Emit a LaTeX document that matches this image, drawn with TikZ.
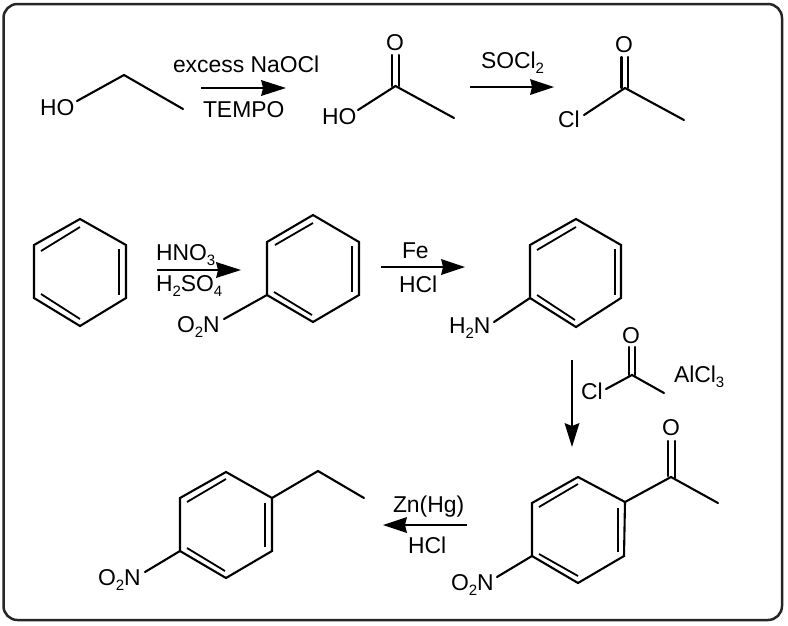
\documentclass[tikz,border=0pt]{standalone}
\usepackage{fontspec}
\setmainfont{Liberation Sans}
\newcommand{\sbs}[1]{\raisebox{-5pt}{\fontsize{15}{15}\selectfont #1}}
\newcommand{\hexring}[7]{%
  \coordinate (#1t) at #2; \coordinate (#1ur) at #3; \coordinate (#1lr) at #4;
  \coordinate (#1b) at #5; \coordinate (#1ll) at #6; \coordinate (#1ul) at #7;
  \draw[bond] (#1t) -- (#1ur) -- (#1lr) -- (#1b) -- (#1ll) -- (#1ul) -- cycle;}
\tikzset{
  bond/.style={line width=2.1pt,draw=black,line cap=round,line join=miter},
  inbond/.style={line width=1.8pt,draw=black},
  frameline/.style={line width=2.5pt,draw=black!85,rounded corners=14pt},
  lab/.style={anchor=base west,inner sep=0pt,outer sep=0pt,text=black,font=\fontsize{22.9}{24}\selectfont},
  labc/.style={lab,anchor=base},
  rxn/.style={line width=2.4pt,draw=black}
}
\begin{document}
\begin{tikzpicture}[x=1pt,y=-1pt]
\useasboundingbox (0,0) rectangle (788,625);
\fill[white] (0,0) rectangle (788,625);
\coordinate (fa) at (3.5,4); \coordinate (fb) at (782,620);
\draw[frameline] (fa) rectangle (fb);

% ethanol
\node[lab] (hoA) at (40,115) {HO};
\coordinate (a1) at (77,101); \coordinate (a2) at (124,75); \coordinate (a3) at (183,109);
\draw[bond] (a1) -- (a2) -- (a3);
% arrow 1
\node[lab] (t1) at (173,72) {excess NaOCl};
\node[lab] (t2) at (203,117) {TEMPO};
\coordinate (r1s) at (201,88); \coordinate (r1e) at (263,88); \coordinate (r1h) at (286,88);
\coordinate (r1u) at (261,80); \coordinate (r1d) at (261,96);
\draw[rxn] (r1s) -- (r1e);
\fill (r1h) -- (r1u) -- (r1e) -- (r1d) -- cycle;
% acetic acid
\node[lab] (hoB) at (322,124) {HO};
\node[labc] (oB) at (395,50) {O};
\coordinate (b1) at (358,110); \coordinate (b2) at (395.5,86); \coordinate (b3) at (454,118);
\coordinate (b4) at (392,55); \coordinate (b5) at (392,86);
\coordinate (b6) at (399,55); \coordinate (b7) at (399,86);
\draw[bond] (b1) -- (b2) -- (b3);
\draw[bond] (b4) -- (b5); \draw[bond] (b6) -- (b7);
% arrow 2
\node[lab] (t3) at (481,68) {SOCl\sbs{2}};
\coordinate (r2s) at (470,87); \coordinate (r2e) at (532,87); \coordinate (r2h) at (554,87);
\coordinate (r2u) at (530,79); \coordinate (r2d) at (530,95);
\draw[rxn] (r2s) -- (r2e);
\fill (r2h) -- (r2u) -- (r2e) -- (r2d) -- cycle;
% acetyl chloride
\node[lab] (clC) at (558,127) {Cl};
\node[labc] (oC) at (624,52) {O};
\coordinate (c1) at (584,115); \coordinate (c2) at (625,88); \coordinate (c3) at (684,120);
\coordinate (c4) at (621.5,57); \coordinate (c5) at (621.5,88);
\coordinate (c6) at (628,57); \coordinate (c7) at (628,88);
\draw[bond] (c1) -- (c2) -- (c3);
\draw[bond] (c4) -- (c5); \draw[bond] (c6) -- (c7);

% benzene
\hexring{d}{(80,219)}{(126,245)}{(126,298)}{(80,326)}{(34,298)}{(34,245)}
\coordinate (d1) at (41,251); \coordinate (d2) at (80,227);
\coordinate (d3) at (119,249); \coordinate (d4) at (119,295);
\coordinate (d5) at (41,294); \coordinate (d6) at (80,319);
\draw[inbond] (d1) -- (d2); \draw[inbond] (d3) -- (d4); \draw[inbond] (d5) -- (d6);
% arrow 3
\node[lab] (t4) at (156,260) {HNO\sbs{3}};
\node[lab] (t5) at (156,291) {H\sbs{2}SO\sbs{4}};
\coordinate (r3s) at (157,270); \coordinate (r3e) at (218,270); \coordinate (r3h) at (241,270);
\coordinate (r3u) at (216,262); \coordinate (r3d) at (216,278);
\draw[rxn] (r3s) -- (r3e);
\fill (r3h) -- (r3u) -- (r3e) -- (r3d) -- cycle;
% nitrobenzene
\hexring{e}{(313,215)}{(359,242)}{(359,295)}{(313,322)}{(267,295)}{(267,242)}
\coordinate (e1) at (275,245); \coordinate (e2) at (313,223);
\coordinate (e3) at (352,246); \coordinate (e4) at (352,292);
\coordinate (e5) at (274,292); \coordinate (e6) at (312,315);
\draw[inbond] (e1) -- (e2); \draw[inbond] (e3) -- (e4); \draw[inbond] (e5) -- (e6);
\node[lab] (nE) at (177,332) {O\sbs{2}N};
\coordinate (e7) at (224,319);
\draw[bond] (e7) -- (ell);
% arrow 4
\node[lab] (t6) at (402,258) {Fe};
\node[lab] (t7) at (399,292) {HCl};
\coordinate (r4s) at (381,267); \coordinate (r4e) at (443,267); \coordinate (r4h) at (465,267);
\coordinate (r4u) at (441,259); \coordinate (r4d) at (441,275);
\draw[rxn] (r4s) -- (r4e);
\fill (r4h) -- (r4u) -- (r4e) -- (r4d) -- cycle;
% aniline
\hexring{f}{(576,219)}{(621,245)}{(621,298)}{(576,327)}{(530,298)}{(530,245)}
\coordinate (f1) at (537,250); \coordinate (f2) at (576,227);
\coordinate (f3) at (615,249); \coordinate (f4) at (615,295);
\coordinate (f5) at (537,295); \coordinate (f6) at (575,320);
\draw[inbond] (f1) -- (f2); \draw[inbond] (f3) -- (f4); \draw[inbond] (f5) -- (f6);
\node[lab] (nF) at (449,333) {H\sbs{2}N};
\coordinate (f7) at (494,322);
\draw[bond] (f7) -- (fll);
% arrow 5
\coordinate (r5s) at (572,360); \coordinate (r5e) at (572,426); \coordinate (r5h) at (572,447);
\coordinate (r5u) at (564.5,423); \coordinate (r5d) at (579.5,423);
\draw[rxn] (r5s) -- (r5e);
\fill (r5h) -- (r5u) -- (r5e) -- (r5d) -- cycle;
\node[lab] (clG) at (581,399) {Cl};
\node[labc] (oG) at (631,343) {O};
\node[lab] (t8) at (674,382) {AlCl\sbs{3}};
\coordinate (g1) at (606,389); \coordinate (g2) at (632,375); \coordinate (g3) at (664,393);
\coordinate (g4) at (629,347); \coordinate (g5) at (629,375);
\coordinate (g6) at (635,347); \coordinate (g7) at (635,375);
\draw[bond] (g1) -- (g2) -- (g3);
\draw[bond] (g4) -- (g5); \draw[bond] (g6) -- (g7);
% nitroacetophenone
\hexring{h}{(578,477)}{(625,502)}{(624,556)}{(578,583)}{(532,556)}{(532,503)}
\coordinate (h1) at (539,507); \coordinate (h2) at (578,484);
\coordinate (h3) at (618,508); \coordinate (h4) at (618,552);
\coordinate (h5) at (539,554); \coordinate (h6) at (578,576);
\draw[inbond] (h1) -- (h2); \draw[inbond] (h3) -- (h4); \draw[inbond] (h5) -- (h6);
\coordinate (h7) at (671,477); \coordinate (h8) at (718,503);
\draw[bond] (hur) -- (h7) -- (h8);
\coordinate (h9) at (668,441); \coordinate (h10) at (668,476);
\coordinate (h11) at (675,441); \coordinate (h12) at (675,478);
\draw[bond] (h9) -- (h10); \draw[bond] (h11) -- (h12);
\node[labc] (oH) at (671,435) {O};
\node[lab] (nH) at (451,590) {O\sbs{2}N};
\coordinate (h13) at (497,577);
\draw[bond] (h13) -- (hll);
% arrow 6
\node[lab] (t9) at (393,512) {Zn(Hg)};
\node[lab] (t10) at (408,553) {HCl};
\coordinate (r6s) at (467,525); \coordinate (r6e) at (405,525); \coordinate (r6h) at (383,525);
\coordinate (r6u) at (407,517); \coordinate (r6d) at (407,533);
\draw[rxn] (r6s) -- (r6e);
\fill (r6h) -- (r6u) -- (r6e) -- (r6d) -- cycle;
% nitroethylbenzene
\hexring{j}{(226,472)}{(272,498)}{(272,551)}{(226,578)}{(180,551)}{(180,498)}
\coordinate (j1) at (187,502); \coordinate (j2) at (226,479);
\coordinate (j3) at (265,503); \coordinate (j4) at (265,547);
\coordinate (j5) at (187,548); \coordinate (j6) at (225,571);
\draw[inbond] (j1) -- (j2); \draw[inbond] (j3) -- (j4); \draw[inbond] (j5) -- (j6);
\coordinate (j7) at (318,471); \coordinate (j8) at (364,498);
\draw[bond] (jur) -- (j7) -- (j8);
\node[lab] (nJ) at (98,585) {O\sbs{2}N};
\coordinate (j9) at (145,572);
\draw[bond] (j9) -- (jll);
\end{tikzpicture}
\end{document}
